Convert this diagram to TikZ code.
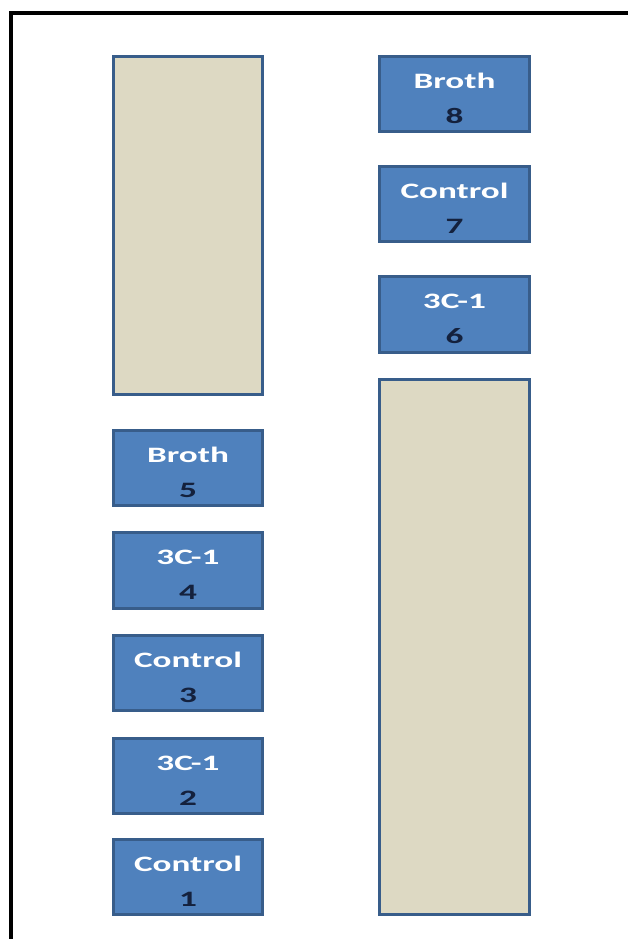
\documentclass[tikz,border=0pt]{standalone}
\usepackage{fontspec}
\setmainfont{Carlito}
\usepackage{graphicx}
\definecolor{tubeblue}{HTML}{4F81BD}
\definecolor{tubeedge}{HTML}{385D8A}
\definecolor{geltan}{HTML}{DDD9C3}
\definecolor{numcol}{HTML}{14213D}
\newcommand{\stretched}[1]{\scalebox{1.6}[1]{#1}}
\newcommand{\tubelabel}[2]{\rule{0pt}{24pt}\stretched{\color{white}#1}\\\stretched{\color{numcol}#2}}

\begin{document}
\begin{tikzpicture}[x=1pt,y=1pt,
    tube/.style={draw=tubeedge, fill=tubeblue, line width=2.8pt, minimum width=149.5pt, minimum height=75.5pt, inner sep=0pt, align=center, font=\bfseries\fontsize{22}{35}\selectfont},
    gel/.style={draw=tubeedge, fill=geltan, line width=2.8pt, minimum width=149.5pt, inner sep=0pt}]

    \useasboundingbox (0,0) rectangle (628,939);
    \clip (0,0) rectangle (628,939);
    \coordinate (frameA) at (10.5,-20);
    \coordinate (frameB) at (660,925.5);
    \draw [line width=4pt] (frameA) |- (frameB);

    \node [gel, minimum height=338.5pt] (gL) at (188, 713.5) {};
    \node [gel, minimum height=535.5pt] (gR) at (454.5, 292) {};

    \node [tube] (s8) at (454.5, 845) {\tubelabel{Broth}{8}};
    \node [tube] (s7) at (454.5, 735) {\tubelabel{Control}{7}};
    \node [tube] (s6) at (454.5, 624.5) {\tubelabel{3C-1}{6}};

    \node [tube] (s5) at (188, 471) {\tubelabel{Broth}{5}};
    \node [tube] (s4) at (188, 368.5) {\tubelabel{3C-1}{4}};
    \node [tube] (s3) at (188, 266) {\tubelabel{Control}{3}};
    \node [tube] (s2) at (188, 163) {\tubelabel{3C-1}{2}};
    \node [tube] (s1) at (188, 62) {\tubelabel{Control}{1}};

\end{tikzpicture}
\end{document}
